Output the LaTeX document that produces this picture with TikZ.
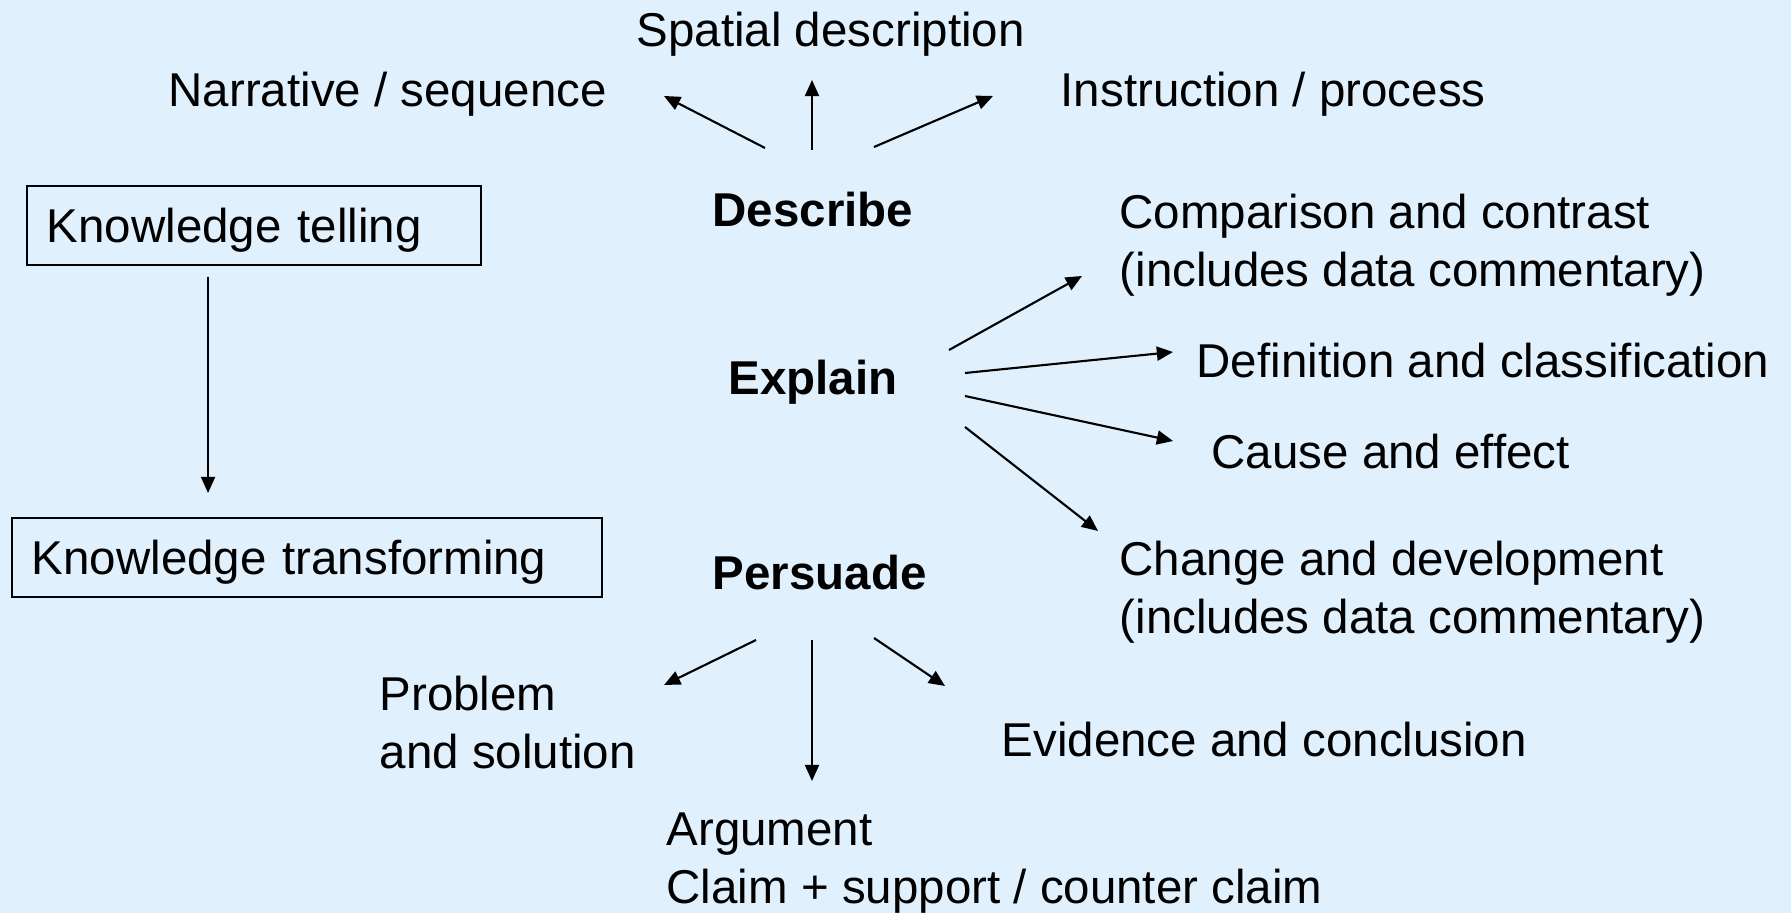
\documentclass[tikz,border=0pt]{standalone}
\usepackage{fontspec}
\setmainfont{Liberation Sans}
\usepackage{tikz}
\usetikzlibrary{arrows.meta}
\definecolor{bgblue}{RGB}{224,240,252}

\begin{document}
\begin{tikzpicture}[x=0.01cm,y=-0.01cm,
  every node/.style={inner sep=0pt,font=\fontsize{13.5pt}{16.5pt}\selectfont},
  txt/.style={anchor=west,align=left,text depth=0pt},
  head/.style={anchor=west,text depth=0pt,font=\fontsize{13.5pt}{16.5pt}\selectfont\bfseries},
  kbox/.style={draw,line width=0.5pt,anchor=north west,inner xsep=0.2cm,minimum height=0.79cm,align=left,text depth=0pt},
  arr/.style={-{Triangle[length=4.6pt,width=4pt]},line width=0.6pt}]
\useasboundingbox[fill=bgblue] (0,0) rectangle (1791,913);
% left column
\node[kbox,text width=4.14cm] (kt) at (26,185) {Knowledge telling};
\node[kbox,text width=5.5cm] (ktr) at (11,517) {Knowledge transforming};
\draw[arr,line width=0.5pt] ([shift={(-46,11)}]kt.south) -- ([shift={(-99,-24)}]ktr.north);
% the three purposes
\node[head] (desc) at (712,209) {Describe};
\node[head] (expl) at (728,377) {Explain};
\node[head] (pers) at (712,572) {Persuade};
% genres
\node[txt] (spat) at (636,29) {Spatial description};
\node[txt] (narr) at (168,89) {Narrative / sequence};
\node[txt] (instr) at (1060,89) {Instruction / process};
\node[txt] (comp) at (1119,240) {Comparison and contrast\\(includes data commentary)};
\node[txt] (defn) at (1196,360) {Definition and classification};
\node[txt] (cause) at (1211,451) {Cause and effect};
\node[txt] (chg) at (1119,587) {Change and development\\(includes data commentary)};
\node[txt] (prob) at (379,722) {Problem\\and solution};
\node[txt] (evid) at (1001,739) {Evidence and conclusion};
\node[txt] (argu) at (666,858) {Argument\\Claim + support / counter claim};
% describe
\draw[arr] ([shift={(53,-61)}]desc.west) -- ([shift={(496,7)}]narr.west);
\draw[arr] ([shift={(100,-59)}]desc.west) -- ([shift={(176,51)}]spat.west);
\draw[arr] ([shift={(162,-62)}]desc.west) -- ([shift={(-67,7)}]instr.west);
% explain
\draw[arr] ([shift={(221,-27)}]expl.west) -- ([shift={(-37,36)}]comp.west);
\draw[arr] ([shift={(237,-4)}]expl.west) -- ([shift={(-23,-8)}]defn.west);
\draw[arr] ([shift={(237,19)}]expl.west) -- ([shift={(-38,-10)}]cause.west);
\draw[arr] ([shift={(237,50)}]expl.west) -- ([shift={(-21,-56)}]chg.west);
% persuade
\draw[arr] ([shift={(44,68)}]pers.west) -- ([shift={(285,-37)}]prob.west);
\draw[arr] ([shift={(100,68)}]pers.west) -- ([shift={(146,-77)}]argu.west);
\draw[arr] ([shift={(162,66)}]pers.west) -- ([shift={(-56,-53)}]evid.west);
\end{tikzpicture}
\end{document}
